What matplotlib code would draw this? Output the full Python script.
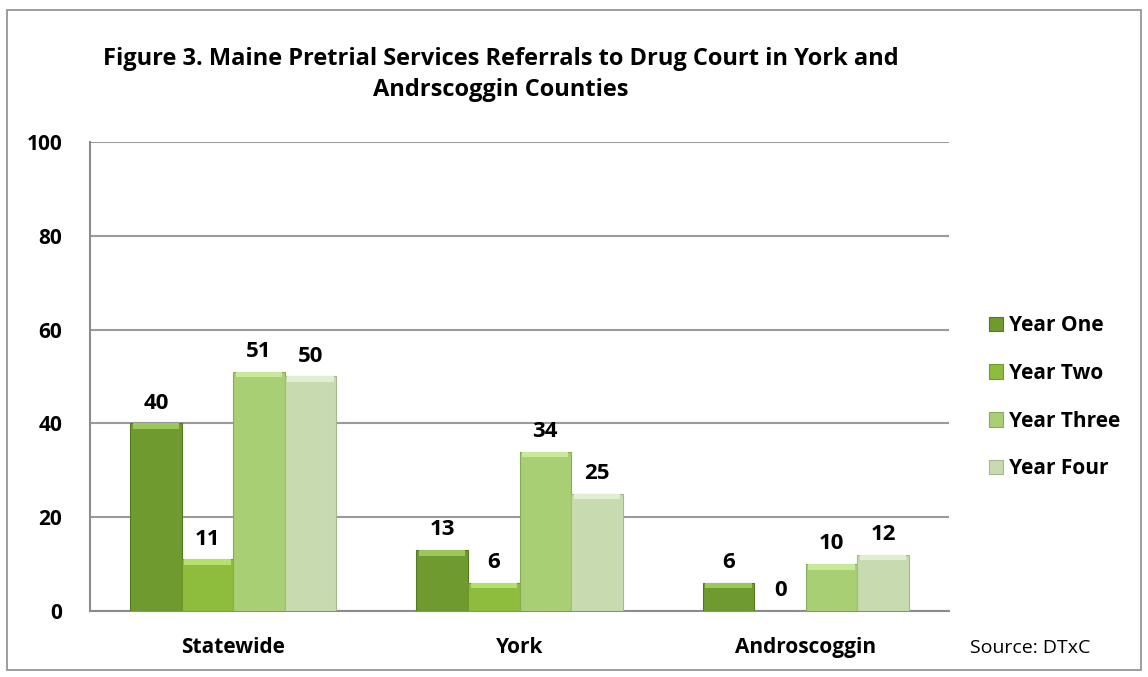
import matplotlib
matplotlib.use('Agg')
import matplotlib.pyplot as plt
from matplotlib.patches import Rectangle
import numpy as np

# data
categories = ['Statewide', 'York', 'Androscoggin']
year_one = [40, 13, 6]
year_two = [11, 6, 0]
year_three = [51, 34, 10]
year_four = [50, 25, 12]
series_names = ['Year One', 'Year Two', 'Year Three', 'Year Four']
colors = ['#6e9a2f', '#8ebd3e', '#a9cf74', '#c8dab0']
caps = ['#9cc85a', '#b5e06a', '#c8e89a', '#e2eed2']
edges = ['#55781f', '#6f9a2a', '#87ab55', '#a7b890']

title = ('Figure 3. Maine Pretrial Services Referrals to Drug Court in York and\n'
         'Andrscoggin Counties')

plt.rcParams['font.family'] = ['Open Sans', 'DejaVu Sans']

fig = plt.figure(figsize=(11.48, 6.77), dpi=100)
ax = fig.add_axes([0.0784, 0.0975, 0.7483, 0.6928])

# frame round the whole chart
fig.patches.append(Rectangle((0.006, 0.010), 0.988, 0.975, transform=fig.transFigure,
                             fill=False, edgecolor='#8c8c8c', linewidth=1.2))

x = np.arange(len(categories))
w = 0.18
all_series = [year_one, year_two, year_three, year_four]
for i, vals in enumerate(all_series):
    pos = x + (i - 1.5) * w
    bars = ax.bar(pos, vals, width=w, color=colors[i], edgecolor=edges[i],
                  linewidth=0.8, label=series_names[i], zorder=3)
    # light bevel on top of each bar
    capv = [min(v, 1.2) for v in vals]
    ax.bar(pos, capv, bottom=[v - c for v, c in zip(vals, capv)], width=w * 0.9,
           color=caps[i], linewidth=0, zorder=3.5)
    for b, v in zip(bars, vals):
        ax.annotate(str(v), (b.get_x() + b.get_width() / 2, v),
                    xytext=(0, 7), textcoords='offset points',
                    ha='center', va='bottom', fontsize=16, fontweight='bold', zorder=4)

ax.set_xlim(-0.5, 2.5)
ax.set_ylim(0, 100)
ax.set_yticks(range(0, 101, 20))
ax.set_xticks(x)
ax.set_xticklabels(categories, fontsize=15, fontweight='bold')
for lab in ax.get_yticklabels():
    lab.set_fontsize(15)
    lab.set_fontweight('bold')
ax.tick_params(length=0, pad=20)
ax.tick_params(axis='x', pad=19)
ax.grid(axis='y', color='#9a9a9a', linewidth=1.5, zorder=0)
for s in ['top', 'right']:
    ax.spines[s].set_visible(False)
for s in ['left', 'bottom']:
    ax.spines[s].set_color('#8c8c8c')
    ax.spines[s].set_linewidth(1.5)

fig.text(0.436, 0.89, title, ha='center', va='center', fontsize=17,
         fontweight='bold', linespacing=1.4)

leg = fig.legend(loc='center left', bbox_to_anchor=(0.845, 0.413), frameon=False,
                 prop={'size': 15, 'weight': 'bold'}, handlelength=0.7,
                 handleheight=0.7, handletextpad=0.25, labelspacing=1.28)

fig.text(0.845, 0.043, 'Source: DTxC', fontsize=14, ha='left', va='center')

fig.savefig('out.png', dpi=100)
